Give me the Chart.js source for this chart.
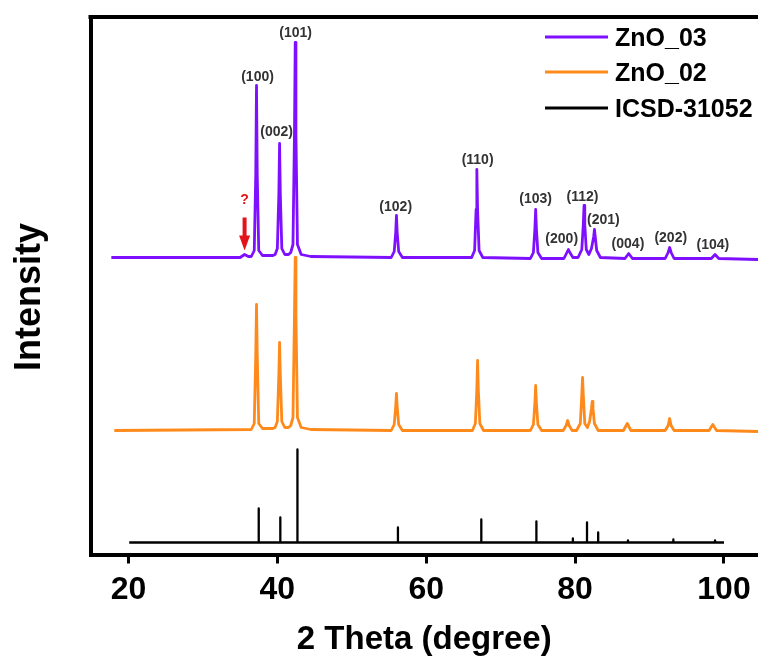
<!DOCTYPE html>
<html>
<head>
<meta charset="utf-8">
<script src="https://cdn.jsdelivr.net/npm/chart.js@4.4.1/dist/chart.umd.min.js"></script>
<style>
  html, body { margin: 0; padding: 0; background: #fff; }
  #wrap { width: 758px; height: 666px; }
</style>
</head>
<body>
<div id="wrap"><canvas id="xrdChart" width="758" height="666"></canvas></div>
<script>
// --- DATA (intensity in arbitrary units, stacked offsets) ---
const tickValues = [20, 40, 60, 80, 100];

const zno03X = [17.7, 35.0, 35.6, 36.1, 36.5, 36.9, 37.1, 37.2, 37.3, 37.5, 38.0, 39.4,
  39.7, 40.0, 40.2, 40.3, 40.4, 40.6, 41.0, 41.5, 41.8, 42.1, 42.3, 42.4, 42.5, 42.7, 43.2, 44.5,
  55.3, 55.7, 55.9, 56.0, 56.1, 56.3, 56.8, 66.1, 66.5, 66.7, 66.8, 66.9, 67.1, 67.6,
  74.0, 74.4, 74.6, 74.7, 74.8, 75.0, 75.5, 78.5, 78.9, 79.1, 79.3, 79.7,
  80.4, 80.9, 81.1, 81.2, 81.3, 81.5, 81.85, 82.2, 82.5, 82.6, 82.7, 82.9, 83.4,
  86.7, 87.2, 87.7, 92.1, 92.5, 92.7, 92.9, 93.3, 98.3, 98.8, 99.3, 104.6];
const zno03Y = [297, 297, 300, 298, 298, 304, 380, 469, 380, 304, 299, 299,
  300, 306, 360, 411, 360, 306, 300, 300, 302, 310, 420, 512, 420, 310, 300, 298,
  297, 303, 322, 339, 322, 303, 297, 297, 304, 345, 385, 345, 304, 297,
  296, 302, 326, 345, 326, 302, 296, 296, 302, 305, 302, 297,
  297, 305, 330, 349, 330, 305, 300, 306, 318, 325, 318, 304, 297,
  296, 301, 296, 296, 302, 307, 302, 296, 296, 300, 296, 295];

const zno02X = [18.1, 36.5, 36.9, 37.1, 37.2, 37.3, 37.5, 38.0, 39.4,
  39.7, 40.0, 40.2, 40.3, 40.4, 40.6, 41.0, 41.5, 41.8, 42.1, 42.3, 42.4, 42.5, 42.7, 43.2, 44.5,
  55.3, 55.7, 55.9, 56.0, 56.1, 56.3, 56.8, 66.2, 66.6, 66.8, 66.9, 67.0, 67.2, 67.7,
  74.0, 74.4, 74.6, 74.7, 74.8, 75.0, 75.5, 78.4, 78.8, 79.0, 79.2, 79.6,
  80.2, 80.7, 80.9, 81.0, 81.1, 81.3, 81.65, 81.95, 82.2, 82.3, 82.4, 82.6, 83.1,
  86.5, 87.0, 87.5, 92.1, 92.5, 92.7, 92.9, 93.3, 98.0, 98.5, 99.0, 104.6];
const zno02Y = [124, 125, 131, 200, 250, 200, 131, 126, 126,
  127, 133, 180, 212, 180, 133, 127, 127, 129, 137, 240, 297, 240, 137, 127, 125,
  124, 130, 148, 161, 148, 130, 124, 124, 131, 165, 194, 165, 131, 124,
  124, 130, 152, 169, 152, 130, 124, 124, 129, 134, 129, 124,
  124, 131, 160, 177, 160, 131, 127, 133, 146, 153, 146, 131, 124,
  124, 131, 124, 124, 129, 136, 129, 124, 124, 130, 124, 123];

// reference card: stick positions and heights on its own baseline
const icsdStart = 20.1;
const icsdEnd = 100;
const icsdBase = 12;
const icsdPos = [37.5, 40.4, 42.7, 56.2, 67.4, 74.8, 79.7, 81.6, 83.1, 87.1, 93.2, 98.8];
const icsdTop = [46, 37, 105, 27, 35, 33, 16, 32, 22, 14, 15, 14];

// Miller index labels
const hklText = ['(100)', '(002)', '(101)', '(102)', '(110)', '(103)', '(200)', '(112)', '(201)', '(004)', '(202)', '(104)'];
const hklX = [37.34, 39.9, 42.45, 55.9, 66.9, 74.7, 78.2, 81.0, 83.8, 87.1, 92.85, 98.5];
const hklY = [477, 422, 521, 347, 394, 355, 315, 357, 334, 310, 316, 309];

// unidentified bump marker
const markX = 35.6;
const markTop = 337;
const markTip = 304;
const markTextY = 354;

const PURPLE = '#7f10ff';
const ORANGE = '#ff8a1c';
const FONT = "'Liberation Sans', Arial, sans-serif";

// --- BUILD POINTS ---
function zip(xs, ys) {
  return xs.map((x, i) => ({x: x, y: ys[i]}));
}

function stickPoints() {
  const pts = [{x: icsdStart, y: icsdBase}];
  icsdPos.forEach((p, i) => {
    pts.push({x: p, y: icsdBase}, {x: p, y: icsdTop[i]}, {x: p, y: icsdBase});
  });
  pts.push({x: icsdEnd, y: icsdBase});
  return pts;
}

// --- PLUGINS: frame top, y title, hkl labels, arrow, legend ---
const extras = {
  id: 'extras',
  afterDatasetsDraw(chart) {
    const ctx = chart.ctx;
    const xs = chart.scales.x, ys = chart.scales.y;
    ctx.save();

    // hkl labels
    ctx.fillStyle = '#333';
    ctx.font = 'bold 14px ' + FONT;
    ctx.textAlign = 'center';
    ctx.textBaseline = 'middle';
    hklText.forEach((t, i) => {
      ctx.fillText(t, xs.getPixelForValue(hklX[i]), ys.getPixelForValue(hklY[i]));
    });

    // red arrow + question mark
    const ax = xs.getPixelForValue(markX);
    const yTop = ys.getPixelForValue(markTop);
    const yTip = ys.getPixelForValue(markTip);
    ctx.fillStyle = '#e3131b';
    ctx.fillRect(ax - 2, yTop, 4, (yTip - yTop) - 14);
    ctx.beginPath();
    ctx.moveTo(ax - 5.5, yTip - 15);
    ctx.lineTo(ax + 5.5, yTip - 15);
    ctx.lineTo(ax, yTip);
    ctx.closePath();
    ctx.fill();
    ctx.font = 'bold 14px ' + FONT;
    ctx.fillText('?', ax, ys.getPixelForValue(markTextY));

    // legend
    const lx0 = 545, lx1 = 608, tx = 615;
    const rows = [37, 72, 108];
    ctx.textAlign = 'left';
    ctx.font = 'bold 25px ' + FONT;
    chart.data.datasets.forEach((ds, i) => {
      ctx.strokeStyle = ds.borderColor;
      ctx.lineWidth = 3;
      ctx.beginPath();
      ctx.moveTo(lx0, rows[i]);
      ctx.lineTo(lx1, rows[i]);
      ctx.stroke();
      ctx.fillStyle = '#000';
      ctx.fillText(ds.label, tx, rows[i] + 2);
    });

    // top frame line
    ctx.strokeStyle = '#000';
    ctx.lineWidth = 4;
    ctx.beginPath();
    ctx.moveTo(chart.chartArea.left - 2, chart.chartArea.top);
    ctx.lineTo(chart.chartArea.right, chart.chartArea.top);
    ctx.stroke();

    // y axis title
    ctx.translate(30, 297);
    ctx.rotate(-Math.PI / 2);
    ctx.textAlign = 'center';
    ctx.fillStyle = '#000';
    ctx.font = 'bold 36px ' + FONT;
    ctx.fillText('Intensity', 0, 0);
    ctx.restore();
  }
};

// --- CHART ---
const chart = new Chart(document.getElementById('xrdChart').getContext('2d'), {
  type: 'line',
  data: {
    datasets: [{
      label: 'ZnO_03',
      data: zip(zno03X, zno03Y),
      borderColor: PURPLE,
      borderWidth: 2.8
    }, {
      label: 'ZnO_02',
      data: zip(zno02X, zno02Y),
      borderColor: ORANGE,
      borderWidth: 2.8
    }, {
      label: 'ICSD-31052',
      data: stickPoints(),
      borderColor: '#000',
      borderWidth: 2.3
    }]
  },
  options: {
    responsive: false,
    animation: false,
    elements: { point: { radius: 0 }, line: { tension: 0, fill: false, borderJoinStyle: 'round' } },
    layout: { padding: { top: 17, right: 0, left: 0, bottom: 0 } },
    plugins: { legend: { display: false }, tooltip: { enabled: false } },
    scales: {
      x: {
        type: 'linear',
        min: 14.9,
        max: 104.57,
        afterBuildTicks(s) { s.ticks = tickValues.map(v => ({value: v})); },
        afterFit(s) { s.height = 111.5; },
        border: { display: true, color: '#000', width: 4 },
        grid: { display: true, drawOnChartArea: false, drawTicks: true, tickLength: 9, tickWidth: 3, tickColor: '#000', color: '#000' },
        ticks: { color: '#000', padding: 7, maxRotation: 0, font: { family: FONT, size: 32, weight: 'bold' } },
        title: { display: true, text: '2 Theta (degree)', color: '#000', padding: { top: 0, bottom: 6 }, font: { family: FONT, size: 33, weight: 'bold' } }
      },
      y: {
        type: 'linear',
        min: 0,
        max: 537.5,
        afterFit(s) { s.width = 90.5; },
        border: { display: true, color: '#000', width: 4 },
        grid: { display: false },
        ticks: { display: false },
        title: { display: false }
      }
    }
  },
  plugins: [extras]
});
</script>
</body>
</html>
